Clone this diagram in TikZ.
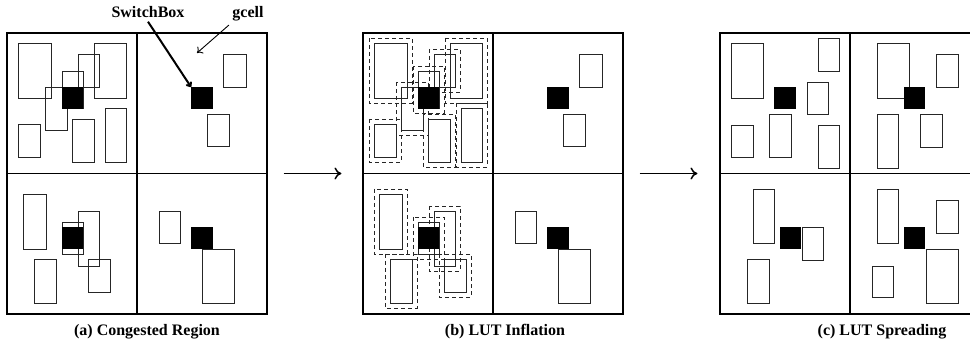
\documentclass[tikz,border=0pt]{standalone}
\usepackage{fontspec}
\setmainfont{Liberation Serif}
\usetikzlibrary{arrows.meta}
\begin{document}
\begin{tikzpicture}[x=1pt, y=-1pt,
	gcell/.style = {draw, line width=1.1pt, minimum width=260pt, minimum height=281pt},
	grid/.style = {line width=1.1pt},
	lut/.style = {draw=black!85, line width=0.9pt},
	inflated/.style = {draw=black!85, line width=0.9pt, dash pattern=on 4pt off 3pt},
	swbox/.style = {fill=black, minimum size=21.5pt, inner sep=0pt},
	flow/.style = {-{To[length=7pt, width=12pt]}, line width=1.5pt},
	caption/.style = {font=\fontsize{16}{19}\selectfont\bfseries, anchor=base}]
	
	\useasboundingbox (0,0) rectangle (970,344);
	\clip (0,0) rectangle (970,344);
	
	\def \leftluts {18/43/51/98, 78/54/99/87, 94/43/126/98, 62/71/83/108, 45/87/67/130, 18/124/40/157, 72/119/94/162, 105/108/126/162, 23/194/46/249, 62/222/83/254, 78/211/99/266, 34/259/56/303, 88/259/110/292}
	\def \rightluts {223/54/246/87, 207/114/229/146, 159/211/180/243, 202/249/234/303}
	\def \spreadluts {731/43/763/98, 818/38/839/71, 807/82/828/114, 731/125/753/157, 769/114/791/157, 818/125/839/168, 877/43/909/98, 936/54/958/87, 877/114/898/168, 920/114/942/147, 753/189/774/243, 802/227/823/260, 747/259/769/303, 877/189/898/243, 936/200/958/233, 872/266/893/297, 926/249/958/303}
	
	% panels a and b share the same luts, b adds the inflated outlines
	\foreach \p/\dx in {a/0, b/356}
	{
		\begin{scope}[xshift=\dx pt]
			\node[gcell] (panel-\p) at (137,173.5) {};
			\draw[grid] (panel-\p.north) -- (panel-\p.south) (panel-\p.west) -- (panel-\p.east);
			\foreach \xa/\ya/\xb/\yb in \leftluts
			{
				\draw[lut] (\xa,\ya) rectangle (\xb,\yb);
			}
			\foreach \xa/\ya/\xb/\yb in \rightluts
			{
				\draw[lut] (\xa,\ya) rectangle (\xb,\yb);
			}
			\ifnum\dx>0
				\foreach \xa/\ya/\xb/\yb in \leftluts
				{
					\draw[inflated] (\xa-5,\ya-5) rectangle (\xb+5,\yb+5);
				}
			\fi
			\node[swbox] (sw-\p-1) at (72.5,98) {};
			\node[swbox] (sw-\p-2) at (202,98) {};
			\node[swbox] (sw-\p-3) at (72.5,238) {};
			\node[swbox] (sw-\p-4) at (202,238) {};
		\end{scope}
	}
	
	\node[gcell] (panel-c) at (850,173.5) {};
	\draw[grid] (panel-c.north) -- (panel-c.south) (panel-c.west) -- (panel-c.east);
	\foreach \xa/\ya/\xb/\yb in \spreadluts
	{
		\draw[lut] (\xa,\ya) rectangle (\xb,\yb);
	}
	\node[swbox] (sw-c-1) at (785,98) {};
	\node[swbox] (sw-c-2) at (914.5,98) {};
	\node[swbox] (sw-c-3) at (790.5,238) {};
	\node[swbox] (sw-c-4) at (914.5,238) {};
	
	\node[caption] (switchbox) at (148,18) {SwitchBox};
	\node[caption] (gcell) at (248,18) {gcell};
	\coordinate (gcell-tip) at (197,53);
	\draw[-{To[length=5pt, width=7pt]}, line width=2pt] (switchbox.south) -- (sw-a-2.north west);
	\draw[-{To[length=5pt, width=9pt]}, line width=0.9pt] (gcell.south west) -- (gcell-tip);
	
	\draw[flow] ([xshift=16pt]panel-a.east) -- ([xshift=-21pt]panel-b.west);
	\draw[flow] ([xshift=16pt]panel-b.east) -- ([xshift=-22pt]panel-c.west);
	
	\node[caption] (cap-a) at (147,336) {(a) Congested Region};
	\node[caption] (cap-b) at (505,336) {(b) LUT Inflation};
	\node[caption] (cap-c) at (882,336) {(c) LUT Spreading};
\end{tikzpicture}
\end{document}
